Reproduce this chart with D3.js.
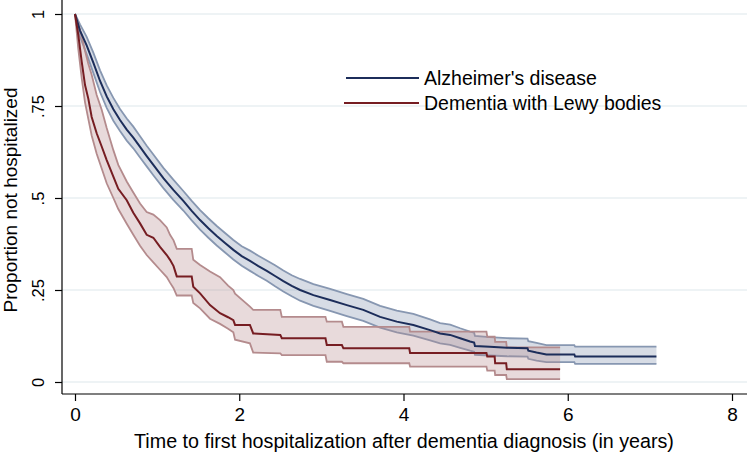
<!DOCTYPE html>
<html><head><meta charset="utf-8">
<script src="https://cdn.jsdelivr.net/npm/d3@7"></script>
<style>body{margin:0;background:#fff}svg{display:block}text{font-family:"Liberation Sans",Arial,Helvetica,sans-serif;fill:#000}</style>
</head><body><svg id="c" width="747" height="458"></svg>
<script>
// ---- data (repeated times mark the vertical drops of the steps) ----
const groups = ["Alzheimer's disease", "Dementia with Lewy bodies"];
const xTicks = [0, 2, 4, 6, 8];
const yTicks = [0, 0.25, 0.5, 0.75, 1];
const yTickLabels = ["0", ".25", ".5", ".75", "1"];

const adTime  = [0,0.061,0.142,0.223,0.305,0.386,0.467,0.548,0.63,0.71,0.792,0.873,0.954,1.076,1.197,1.319,1.421,1.523,1.624,1.726,1.827,1.928,2.03,2.131,2.233,2.335,2.436,2.537,2.639,2.741,2.903,3.106,3.31,3.51,3.715,3.918,4.12,4.324,4.446,4.568,4.69,4.81,4.86,4.87,5.05,5.26,5.51,5.52,5.62,5.74,6.08,6.09,7.08];
const adSurv  = [1,0.955,0.915,0.868,0.818,0.776,0.741,0.712,0.686,0.664,0.639,0.614,0.590,0.554,0.522,0.492,0.465,0.440,0.418,0.397,0.378,0.359,0.342,0.329,0.315,0.302,0.288,0.274,0.261,0.250,0.236,0.223,0.209,0.196,0.177,0.164,0.155,0.141,0.132,0.128,0.119,0.110,0.107,0.098,0.096,0.093,0.092,0.085,0.080,0.075,0.075,0.069,0.069];
const adLower = [1,0.938,0.891,0.840,0.788,0.745,0.710,0.682,0.656,0.635,0.610,0.586,0.562,0.527,0.495,0.466,0.439,0.414,0.392,0.371,0.352,0.333,0.316,0.302,0.288,0.275,0.260,0.246,0.233,0.221,0.207,0.193,0.179,0.166,0.148,0.135,0.126,0.113,0.105,0.101,0.093,0.085,0.082,0.074,0.072,0.070,0.069,0.063,0.058,0.054,0.054,0.049,0.049];
const adUpper = [1,0.972,0.938,0.895,0.847,0.806,0.772,0.742,0.716,0.694,0.668,0.642,0.618,0.582,0.550,0.519,0.492,0.467,0.445,0.424,0.405,0.386,0.369,0.357,0.343,0.330,0.317,0.303,0.290,0.280,0.266,0.253,0.239,0.226,0.207,0.194,0.185,0.170,0.160,0.156,0.146,0.137,0.134,0.125,0.122,0.119,0.118,0.111,0.106,0.100,0.100,0.096,0.096];

const dlbTime  = [0,0.04,0.082,0.122,0.162,0.203,0.264,0.325,0.386,0.467,0.527,0.63,0.71,0.792,0.873,0.954,1.035,1.117,1.157,1.20,1.239,1.421,1.44,1.523,1.644,1.766,1.864,1.928,1.949,2.13,2.17,2.50,2.518,3.05,3.066,3.25,3.268,4.07,4.08,5.01,5.02,5.11,5.116,5.25,5.258,5.907];
const dlbSurv  = [1,0.943,0.870,0.807,0.770,0.720,0.676,0.640,0.603,0.558,0.525,0.494,0.460,0.431,0.400,0.392,0.367,0.345,0.332,0.315,0.287,0.287,0.259,0.241,0.209,0.187,0.176,0.168,0.155,0.155,0.132,0.128,0.119,0.119,0.1005,0.1005,0.0916,0.0916,0.079,0.079,0.069,0.069,0.051,0.051,0.0345,0.0345];
const dlbLower = [1,0.905,0.825,0.760,0.715,0.670,0.620,0.580,0.540,0.500,0.470,0.430,0.400,0.370,0.345,0.325,0.305,0.285,0.270,0.255,0.235,0.235,0.215,0.200,0.172,0.158,0.145,0.135,0.115,0.105,0.080,0.078,0.073,0.073,0.055,0.055,0.051,0.051,0.042,0.042,0.031,0.031,0.019,0.019,0.008,0.008];
const dlbUpper = [1,0.972,0.940,0.900,0.865,0.835,0.780,0.740,0.690,0.630,0.590,0.545,0.515,0.485,0.462,0.455,0.440,0.420,0.400,0.385,0.362,0.362,0.332,0.318,0.300,0.285,0.262,0.250,0.240,0.205,0.196,0.196,0.177,0.177,0.164,0.164,0.150,0.150,0.137,0.137,0.123,0.123,0.109,0.109,0.094,0.094];

// ---- drawing ----
const svg = d3.select("#c");
const x = d3.scaleLinear().domain([0, 8]).range([75, 732]);
const y = d3.scaleLinear().domain([0, 1]).range([382, 14]);
const plotL = 62, plotR = 747, plotB = 394;

svg.append("g").selectAll("line").data(yTicks).join("line")
  .attr("x1", plotL).attr("x2", plotR)
  .attr("y1", d => y(d)).attr("y2", d => y(d))
  .attr("stroke", "#e9eff2").attr("stroke-width", 1.6);

function series(time, surv, lo, hi, col) {
  const rows = time.map((t, i) => ({t, s: surv[i], lo: lo[i], hi: hi[i]}));
  const area = d3.area().x(d => x(d.t)).y0(d => y(d.lo)).y1(d => y(d.hi));
  const line = k => d3.line().x(d => x(d.t)).y(d => y(d[k]));
  const g = svg.append("g");
  g.append("path").datum(rows).attr("d", area).attr("fill", col.fill).attr("fill-opacity", col.op);
  g.append("path").datum(rows).attr("d", line("lo")).attr("fill", "none").attr("stroke", col.edge).attr("stroke-width", 1.8);
  g.append("path").datum(rows).attr("d", line("hi")).attr("fill", "none").attr("stroke", col.edge).attr("stroke-width", 1.8);
  return {rows, line};
}
const adCol  = {fill: "#8d9cb5", op: 0.35, edge: "#8797b1", main: "#1c2d5a"};
const dlbCol = {fill: "#b98c8f", op: 0.32, edge: "#b48b8d", main: "#761d22"};
const A = series(adTime, adSurv, adLower, adUpper, adCol);
const D = series(dlbTime, dlbSurv, dlbLower, dlbUpper, dlbCol);
svg.append("path").datum(A.rows).attr("d", A.line("s")).attr("fill", "none").attr("stroke", adCol.main).attr("stroke-width", 2);
svg.append("path").datum(D.rows).attr("d", D.line("s")).attr("fill", "none").attr("stroke", dlbCol.main).attr("stroke-width", 2);

// axes
const yAxis = d3.axisLeft(y).tickValues(yTicks).tickSize(7).tickFormat((d, i) => yTickLabels[i]);
const gy = svg.append("g").attr("transform", `translate(${plotL},0)`).call(yAxis);
gy.select(".domain").remove();
gy.append("line").attr("x1", 0).attr("x2", 0).attr("y1", 0).attr("y2", plotB).attr("stroke", "#000").attr("stroke-width", 1.2);
gy.selectAll(".tick line").attr("stroke", "#000").attr("stroke-width", 1.2);
gy.selectAll(".tick text").attr("font-size", 16.5).attr("fill", "#000")
  .attr("text-anchor", "middle").attr("dy", null).attr("x", null)
  .attr("transform", "translate(-18,0) rotate(-90)").attr("y", 0);

const xAxis = d3.axisBottom(x).tickValues(xTicks).tickSize(7).tickFormat(d3.format("d"));
const gx = svg.append("g").attr("transform", `translate(0,${plotB})`).call(xAxis);
gx.select(".domain").remove();
gx.append("line").attr("x1", plotL).attr("x2", plotR).attr("y1", 0).attr("y2", 0).attr("stroke", "#000").attr("stroke-width", 1.2);
gx.selectAll(".tick line").attr("stroke", "#000").attr("stroke-width", 1.2);
gx.selectAll(".tick text").attr("font-size", 19).attr("fill", "#000").attr("dy", null).attr("y", 27);
svg.selectAll("g").attr("font-family", null);

// titles
svg.append("text").attr("x", 404).attr("y", 448).attr("text-anchor", "middle")
  .attr("font-size", 19.7).text("Time to first hospitalization after dementia diagnosis (in years)");
svg.append("text").attr("transform", "translate(17,200) rotate(-90)").attr("text-anchor", "middle")
  .attr("font-size", 19).text("Proportion not hospitalized");

// legend
const leg = svg.append("g");
const legY = [78, 103], legX1 = [346, 344];
groups.forEach((name, i) => {
  leg.append("line").attr("x1", legX1[i]).attr("x2", 419).attr("y1", legY[i]).attr("y2", legY[i])
    .attr("stroke", i === 0 ? adCol.main : dlbCol.main).attr("stroke-width", 2);
  leg.append("text").attr("x", 424).attr("y", legY[i] + 7).attr("font-size", 19.5).text(name);
});
</script></body></html>
